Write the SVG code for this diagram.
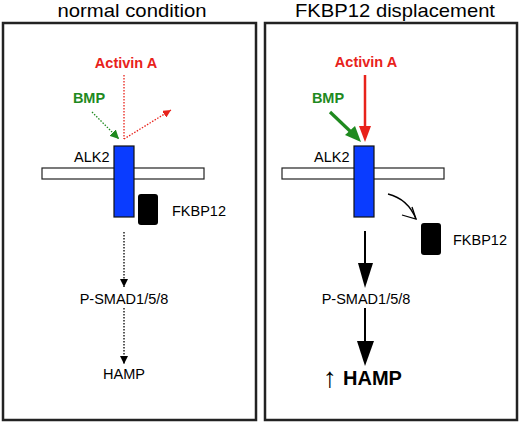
<svg xmlns="http://www.w3.org/2000/svg" width="520" height="422" viewBox="0 0 520 422">
<defs>
<style>
text{font-family:"Liberation Sans",Arial,sans-serif;}
.title{font-size:19px;fill:#000;text-anchor:middle;}
.lbl{font-size:14.5px;fill:#000;}
.red{fill:#e8221b;font-weight:bold;font-size:14.5px;text-anchor:middle;}
.green{fill:#1f8a1f;font-weight:bold;font-size:14.5px;text-anchor:middle;}
.panel{fill:#fff;stroke:#222;stroke-width:2.5;}
.mem{fill:#fff;stroke:#222;stroke-width:1.2;}
.alk{fill:#0a3cff;stroke:#111;stroke-width:1.2;}
.fk{fill:#000;}
.dot{stroke-dasharray:1.5 1.5;stroke-width:1.3;fill:none;}
</style>
<marker id="hR" viewBox="0 0 10 10" refX="10" refY="5" markerWidth="8" markerHeight="8" markerUnits="userSpaceOnUse" orient="auto"><path d="M0,0 L10,5 L0,10 z" fill="#e8221b"/></marker>
<marker id="hG" viewBox="0 0 10 10" refX="10" refY="5" markerWidth="9" markerHeight="9" markerUnits="userSpaceOnUse" orient="auto"><path d="M0,0 L10,5 L0,10 z" fill="#1f8a1f"/></marker>
<marker id="hK" viewBox="0 0 10 10" refX="10" refY="5" markerWidth="8" markerHeight="8" markerUnits="userSpaceOnUse" orient="auto"><path d="M0,0 L10,5 L0,10 z" fill="#000"/></marker>
</defs>
<rect width="520" height="422" fill="#fff"/>
<g id="panel-left">
<rect class="panel" x="3" y="23" width="253" height="397"/>
<text class="title" x="132" y="17" textLength="149" lengthAdjust="spacingAndGlyphs">normal condition</text>
</g>
<g id="panel-right">
<rect class="panel" x="265" y="23" width="252" height="397"/>
<text class="title" x="395" y="17" textLength="200" lengthAdjust="spacingAndGlyphs">FKBP12 displacement</text>
</g>
<g id="left-nodes">
<g id="L-activin"><text class="red" x="126" y="68">Activin A</text></g>
<g id="L-bmp"><text class="green" x="89" y="103">BMP</text></g>
<g id="L-membrane"><rect class="mem" x="42" y="168" width="162" height="11"/></g>
<g id="L-alk2"><rect class="alk" x="114" y="146" width="20" height="71"/><text class="lbl" x="74" y="162">ALK2</text></g>
<g id="L-fkbp12"><rect class="fk" x="138" y="194" width="20" height="31" rx="3"/><text class="lbl" x="172" y="216">FKBP12</text></g>
<g id="L-psmad"><text class="lbl" x="124" y="304" text-anchor="middle">P-SMAD1/5/8</text></g>
<g id="L-hamp"><text class="lbl" x="124" y="379" text-anchor="middle">HAMP</text></g>
</g>
<g id="right-nodes">
<g id="R-activin"><text class="red" x="366" y="67">Activin A</text></g>
<g id="R-bmp"><text class="green" x="328" y="103">BMP</text></g>
<g id="R-membrane"><rect class="mem" x="282" y="168" width="162" height="11"/></g>
<g id="R-alk2"><rect class="alk" x="354" y="146" width="20" height="71"/><text class="lbl" x="314" y="162">ALK2</text></g>
<g id="R-fkbp12"><rect class="fk" x="421" y="223" width="20" height="32" rx="3"/><text class="lbl" x="453" y="245">FKBP12</text></g>
<g id="R-psmad"><text class="lbl" x="366" y="304" text-anchor="middle">P-SMAD1/5/8</text></g>
<g id="R-hamp"><text x="330" y="387" font-size="28" fill="#000" text-anchor="middle">↑</text><text x="343" y="385" font-size="20" font-weight="bold" fill="#000">HAMP</text></g>
</g>
<g id="connectors">
<line class="dot" x1="124" y1="75" x2="124" y2="139" stroke="#e8221b"/>
<line class="dot" x1="124" y1="139" x2="171" y2="110" stroke="#e8221b" marker-end="url(#hR)"/>
<line class="dot" x1="92" y1="112" x2="119" y2="139" stroke="#1f8a1f" marker-end="url(#hG)"/>
<line class="dot" x1="124" y1="232" x2="124" y2="287" stroke="#000" marker-end="url(#hK)"/>
<line class="dot" x1="124" y1="308" x2="124" y2="364" stroke="#000" marker-end="url(#hK)"/>
<line x1="365" y1="75" x2="365" y2="128" stroke="#e8221b" stroke-width="2.5"/>
<path d="M359,126 L371,126 L365,142 z" fill="#e8221b"/>
<line x1="330" y1="112" x2="351" y2="132" stroke="#1f8a1f" stroke-width="3.2"/>
<path d="M345,135 L355,126 L361,142 z" fill="#1f8a1f"/>
<path d="M388,194 Q408,199 416,219" fill="none" stroke="#000" stroke-width="1.3"/>
<path d="M402,215 L416,219 L412,207" fill="none" stroke="#000" stroke-width="1.3"/>
<line x1="365" y1="231" x2="365" y2="264" stroke="#000" stroke-width="2"/>
<path d="M358,263 L373,263 L365,288 z" fill="#000"/>
<line x1="365" y1="308" x2="365" y2="342" stroke="#000" stroke-width="2"/>
<path d="M357,341 L374,341 L365,366 z" fill="#000"/>
</g>
</svg>
